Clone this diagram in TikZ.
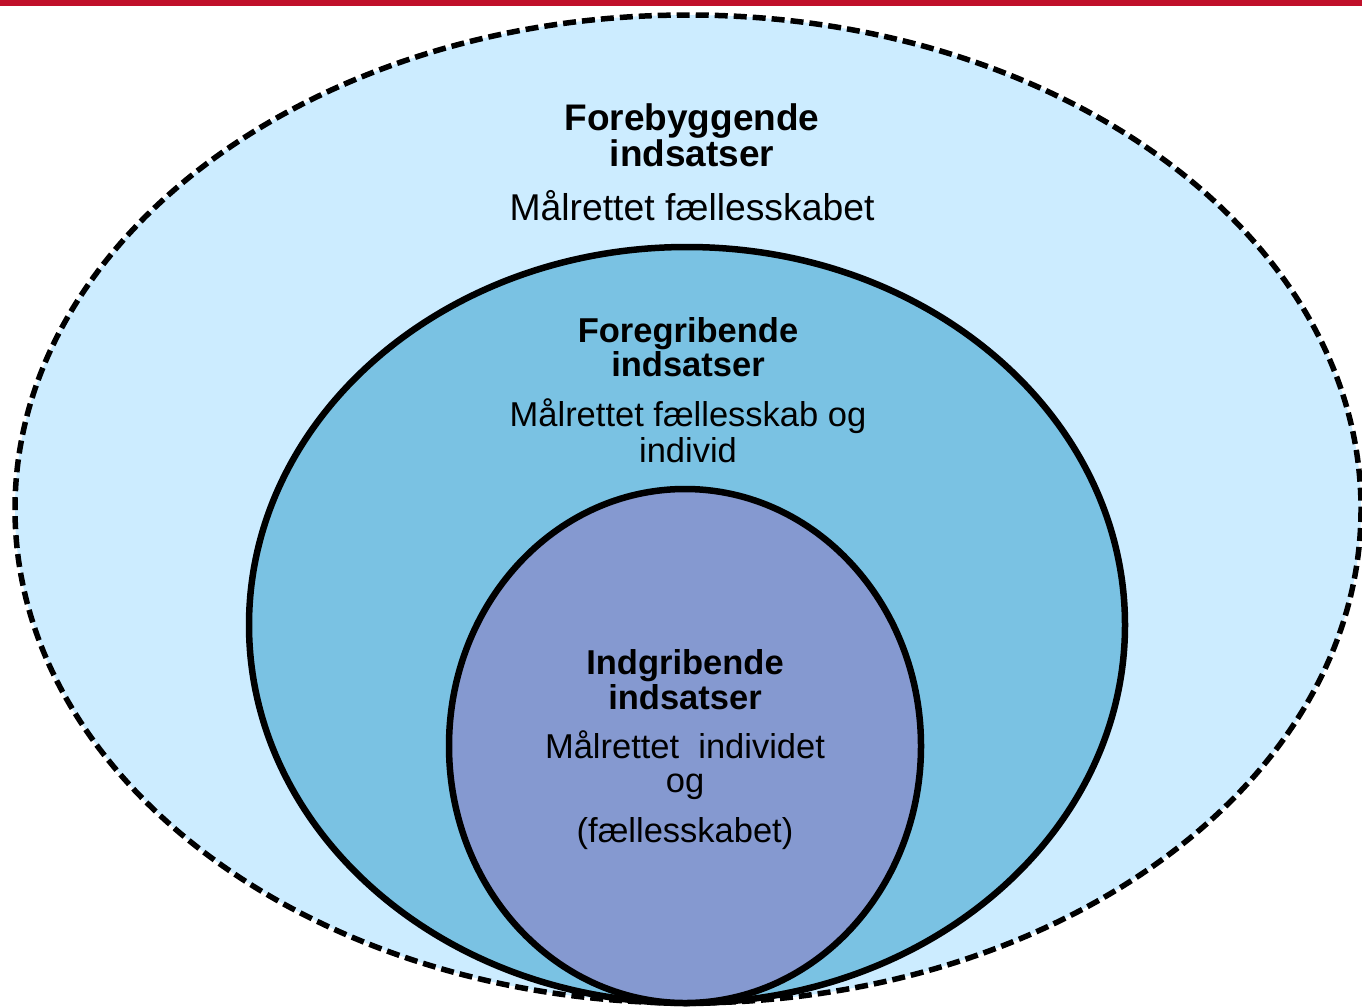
\documentclass[tikz,border=0pt]{standalone}
\usepackage{fontspec}
\setmainfont{Liberation Sans}
\definecolor{barred}{RGB}{192,16,42}
\definecolor{outerfill}{RGB}{204,236,255}
\definecolor{midfill}{RGB}{122,194,227}
\definecolor{innerfill}{RGB}{133,153,208}
\tikzset{
  ring/.style={draw=black, line width=6.5pt},
  dashring/.style={draw=black, line width=5.5pt, dash pattern=on 13pt off 6pt},
  big/.style={font=\fontsize{37.3}{36}\selectfont, anchor=base, inner sep=0pt},
  bigb/.style={font=\fontsize{37}{36}\selectfont\bfseries, anchor=base, inner sep=0pt},
  mid/.style={font=\fontsize{34.5}{34}\selectfont, anchor=base, inner sep=0pt},
  midb/.style={font=\fontsize{34.5}{34}\selectfont\bfseries, anchor=base, inner sep=0pt},
}
\begin{document}
\begin{tikzpicture}[x=1pt,y=-1pt]
\useasboundingbox (0,0) rectangle (1362,1007);
\clip (0,0) rectangle (1362,1007);
\fill[barred] (0,0) rectangle (1362,6);
\path[fill=outerfill, dashring] (688,509) ellipse [x radius=673, y radius=494];
\path[fill=midfill, ring] (687,625) ellipse [x radius=438, y radius=378];
\path[fill=innerfill, ring] (685,746) ellipse [x radius=236, y radius=257];
\node[bigb] (t1) at (692,130) {Forebyggende};
\node[bigb] (t2) at (692,166) {indsatser};
\node[big] (t3) at (692,220) {Målrettet fællesskabet};
\node[midb] (m1) at (688,342) {Foregribende};
\node[midb] (m2) at (688,376) {indsatser};
\node[mid] (m3) at (688,426) {Målrettet fællesskab og};
\node[mid] (m4) at (688,462) {individ};
\node[midb] (i1) at (685,674) {Indgribende};
\node[midb] (i2) at (685,709) {indsatser};
\node[mid] (i3) at (685,758) {Målrettet\ \ individet};
\node[mid] (i4) at (685,792) {og};
\node[mid] (i5) at (685,842) {(fællesskabet)};
\end{tikzpicture}
\end{document}
